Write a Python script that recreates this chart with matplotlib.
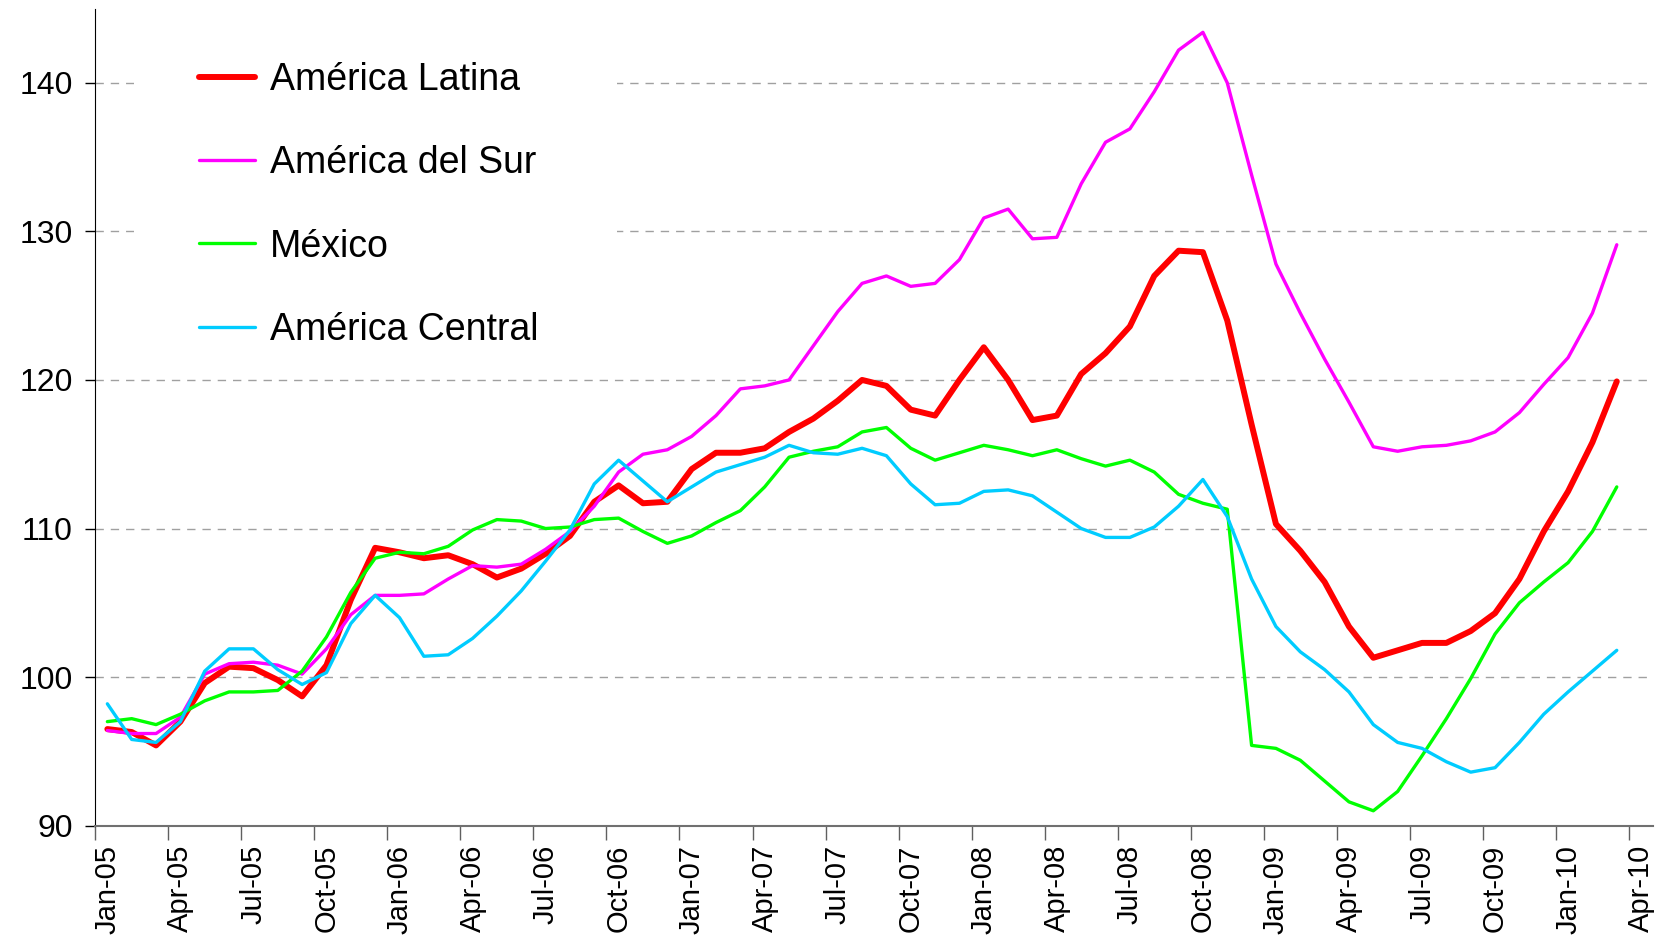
import numpy as np
import matplotlib
matplotlib.use("Agg")
import matplotlib.pyplot as plt
from matplotlib.ticker import FixedLocator
from matplotlib.patches import Rectangle

plt.rcParams['font.family'] = ['Liberation Sans', 'DejaVu Sans']

# etiquetas del eje x (cada trimestre)
tick_labels = ['Jan-05', 'Apr-05', 'Jul-05', 'Oct-05', 'Jan-06', 'Apr-06', 'Jul-06', 'Oct-06',
               'Jan-07', 'Apr-07', 'Jul-07', 'Oct-07', 'Jan-08', 'Apr-08', 'Jul-08', 'Oct-08',
               'Jan-09', 'Apr-09', 'Jul-09', 'Oct-09', 'Jan-10', 'Apr-10']

# series mensuales, enero 2005 a marzo 2010
america_latina = [96.5, 96.3, 95.4, 97.0, 99.6, 100.7, 100.6, 99.8, 98.7, 100.8,
                  105.2, 108.7, 108.4, 108.0, 108.2, 107.6, 106.7, 107.3, 108.3, 109.5,
                  111.8, 112.9, 111.7, 111.8, 114.0, 115.1, 115.1, 115.4, 116.5, 117.4,
                  118.6, 120.0, 119.6, 118.0, 117.6, 120.0, 122.2, 120.0, 117.3, 117.6,
                  120.4, 121.8, 123.6, 127.0, 128.7, 128.6, 124.0, 117.0, 110.3, 108.5,
                  106.4, 103.4, 101.3, 101.8, 102.3, 102.3, 103.1, 104.3, 106.6, 109.8,
                  112.5, 115.8, 119.9]
america_sur = [96.4, 96.2, 96.2, 97.3, 100.2, 100.9, 101.0, 100.8, 100.2, 101.9,
               104.2, 105.5, 105.5, 105.6, 106.6, 107.5, 107.4, 107.6, 108.6, 109.8,
               111.5, 113.8, 115.0, 115.3, 116.2, 117.6, 119.4, 119.6, 120.0, 122.3,
               124.6, 126.5, 127.0, 126.3, 126.5, 128.1, 130.9, 131.5, 129.5, 129.6,
               133.2, 136.0, 136.9, 139.4, 142.2, 143.4, 140.0, 133.8, 127.8, 124.5,
               121.4, 118.5, 115.5, 115.2, 115.5, 115.6, 115.9, 116.5, 117.8, 119.7,
               121.5, 124.5, 129.1]
mexico = [97.0, 97.2, 96.8, 97.5, 98.4, 99.0, 99.0, 99.1, 100.4, 102.7,
          105.7, 108.0, 108.4, 108.3, 108.8, 109.9, 110.6, 110.5, 110.0, 110.1,
          110.6, 110.7, 109.8, 109.0, 109.5, 110.4, 111.2, 112.8, 114.8, 115.2,
          115.5, 116.5, 116.8, 115.4, 114.6, 115.1, 115.6, 115.3, 114.9, 115.3,
          114.7, 114.2, 114.6, 113.8, 112.3, 111.7, 111.3, 95.4, 95.2, 94.4,
          93.0, 91.6, 91.0, 92.3, 94.7, 97.2, 99.9, 102.9, 105.0, 106.4,
          107.7, 109.8, 112.8]
america_central = [98.2, 95.8, 95.6, 97.0, 100.4, 101.9, 101.9, 100.5, 99.5, 100.3,
                   103.6, 105.5, 104.0, 101.4, 101.5, 102.6, 104.1, 105.8, 107.8, 109.9,
                   113.0, 114.6, 113.2, 111.8, 112.8, 113.8, 114.3, 114.8, 115.6, 115.1,
                   115.0, 115.4, 114.9, 113.0, 111.6, 111.7, 112.5, 112.6, 112.2, 111.1,
                   110.0, 109.4, 109.4, 110.1, 111.5, 113.3, 110.8, 106.6, 103.4, 101.7,
                   100.5, 99.0, 96.8, 95.6, 95.2, 94.3, 93.6, 93.9, 95.6, 97.5,
                   99.0, 100.4, 101.8]

series = [('América Latina', america_latina, '#FF0000', 4.3),
          ('América del Sur', america_sur, '#FF00FF', 2.4),
          ('México', mexico, '#00FF00', 2.4),
          ('América Central', america_central, '#00CCFF', 2.4)]

# meses: cada punto en el centro de su mes
x = np.arange(len(america_latina)) + 0.5

fig = plt.figure(figsize=(16.7, 9.49), dpi=100)
ax = fig.add_axes([0.057, 0.13, 0.933, 0.861])

for name, vals, color, lw in series:
    ax.plot(x, vals, color=color, linewidth=lw, label=name, zorder=3,
            solid_capstyle='round', solid_joinstyle='round')

ax.set_xlim(0, 64)
ax.set_ylim(90, 145)

# lineas de la grilla horizontales
for v in [100, 110, 120, 130, 140]:
    ax.axhline(v, color='#a0a0a0', linewidth=1.0, linestyle=(0, (6, 5)), zorder=0)

# fondo blanco de la leyenda (tapa la grilla)
ax.add_patch(Rectangle((0.025, 0.575), 0.31, 0.425, transform=ax.transAxes,
                       facecolor='white', edgecolor='none', zorder=1))

ax.set_yticks([90, 100, 110, 120, 130, 140])
ax.tick_params(axis='y', labelsize=23, length=7, width=1, pad=9, direction='out')

# etiquetas al centro del mes, marcas entre meses
ax.xaxis.set_major_locator(FixedLocator(np.arange(len(tick_labels)) * 3 + 0.5))
ax.set_xticklabels(tick_labels, rotation=90)
ax.xaxis.set_minor_locator(FixedLocator(np.arange(len(tick_labels)) * 3))
ax.tick_params(axis='x', which='major', labelsize=21, length=0, pad=14)
ax.tick_params(axis='x', which='minor', length=10, width=1, color='#606060')

for s in ['top', 'right']:
    ax.spines[s].set_visible(False)
ax.spines['left'].set_color('black')
ax.spines['bottom'].set_color('#707070')
ax.spines['bottom'].set_linewidth(1.5)

leg = ax.legend(loc='upper left', bbox_to_anchor=(0.04, 0.985), fontsize=27,
                frameon=False, handlelength=1.5, handletextpad=0.4,
                labelspacing=1.26, borderpad=0.6)
leg.set_zorder(5)

plt.savefig('out.png', dpi=100)
